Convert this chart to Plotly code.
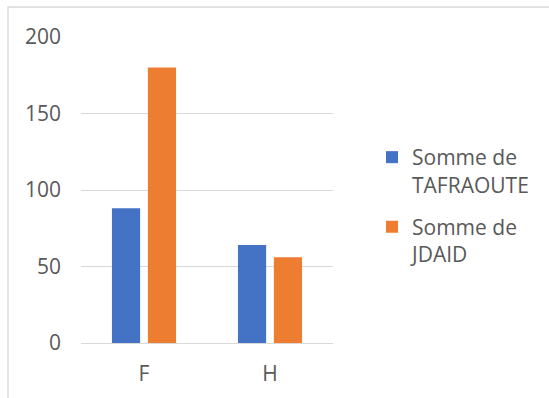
import plotly.graph_objects as go

# Data
categories = ["F", "H"]
tafraoute = [88, 64]
jdaid = [180, 56]
series_names = ["Somme de<br>TAFRAOUTE", "Somme de<br>JDAID"]
y_ticks = [0, 50, 100, 150, 200]

BLUE = "#4472C4"
ORANGE = "#ED7D31"
TEXT = "#595959"
GRID = "#D9D9D9"
FONT = "Open Sans, Segoe UI, sans-serif"
FS = 21

fig = go.Figure()
fig.add_trace(go.Bar(x=categories, y=tafraoute, name=series_names[0],
                     legendgroup="t",
                     marker=dict(color=BLUE, line=dict(width=0))))
fig.add_trace(go.Bar(x=categories, y=jdaid, name=series_names[1],
                     legendgroup="j",
                     marker=dict(color=ORANGE, line=dict(width=0))))

W, H = 549, 398
L, R, T, B = 81, 216, 37, 55
pw, ph = W - L - R, H - T - B

def px_x(p):
    return (p - L) / pw

def px_y(p):
    return (H - B - p) / ph

fig.update_layout(
    width=W, height=H,
    margin=dict(l=L, r=R, t=T, b=B, pad=0),
    paper_bgcolor="white", plot_bgcolor="white",
    barmode="group", bargap=0.43, bargroupgap=0.215,
    font=dict(family=FONT, size=FS, color=TEXT),
    showlegend=True,
    legend=dict(x=px_x(372), y=px_y(137), xanchor="left", yanchor="top",
                font=dict(family=FONT, size=FS, color=TEXT),
                valign="top", tracegroupgap=12, itemwidth=30,
                bgcolor="rgba(0,0,0,0)"),
    xaxis=dict(showgrid=False, showline=False, ticks="",
               tickfont=dict(family=FONT, size=FS, color=TEXT),
               ticklabelstandoff=16),
    yaxis=dict(range=[0, 200], tickvals=y_ticks, showgrid=True,
               gridcolor=GRID, gridwidth=1.3, zeroline=True,
               zerolinecolor=GRID, zerolinewidth=1.3, showline=False,
               ticks="", tickfont=dict(family=FONT, size=FS, color=TEXT),
               ticklabelstandoff=19),
    shapes=[dict(type="rect", xref="paper", yref="paper",
                 x0=px_x(8), x1=px_x(600), y0=px_y(7), y1=px_y(450),
                 line=dict(color=GRID, width=1.3), fillcolor="rgba(0,0,0,0)",
                 layer="below")],
)

fig.write_html("out.html")
